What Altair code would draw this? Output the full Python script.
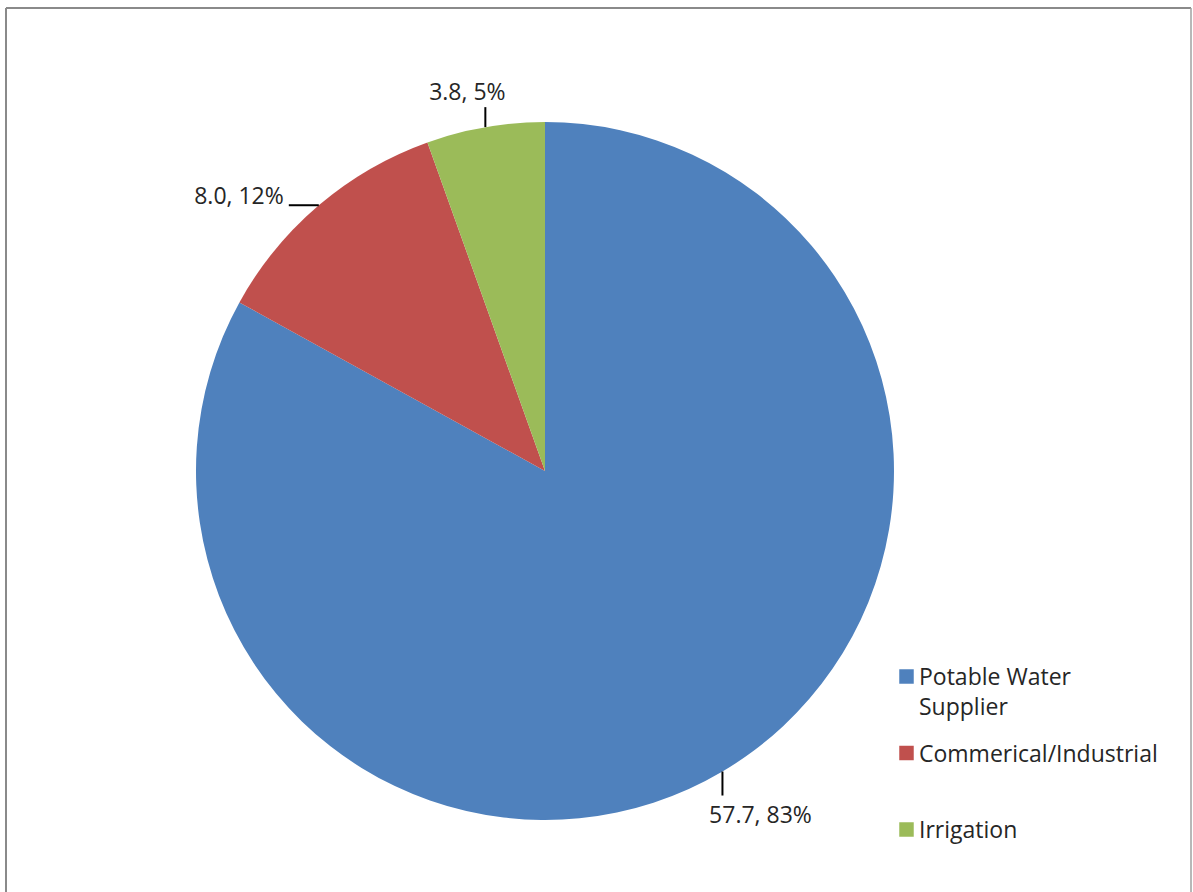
import altair as alt
import pandas as pd

categories = ["Potable Water Supplier", "Commerical/Industrial", "Irrigation"]
volumes = [57.7, 8.0, 3.8]
colors = ["#4F81BD", "#C0504D", "#9BBB59"]

W, H = 1193, 892
CX, CY, R = 545, 471, 349
FONT = "Open Sans"
FS = 23
TXT = "#262626"

df = pd.DataFrame({"category": categories, "volume": volumes,
                   "order": list(range(len(categories)))})

xs = alt.Scale(domain=[0, W], nice=False, zero=False)
ys = alt.Scale(domain=[0, H], nice=False, zero=False, reverse=True)
cs = alt.Scale(domain=categories, range=colors)

base = alt.Chart(df)

pie = base.mark_arc(radius=R).encode(
    theta=alt.Theta("volume:Q", stack=True),
    order=alt.Order("order:Q"),
    color=alt.Color("category:N", scale=cs, legend=None),
    x=alt.value(CX),
    y=alt.value(CY),
)

geo = base.transform_joinaggregate(total="sum(volume)").transform_window(
    cum="sum(volume)", sort=[alt.SortField("order")], frame=[None, 0]
).transform_calculate(
    mid="(datum.cum - datum.volume/2)/datum.total*2*PI",
    ex=f"{CX} + {R}*sin(datum.mid)",
    ey=f"{CY} - {R}*cos(datum.mid)",
    vert="abs(cos(datum.mid)) > 0.8",
    lx2="datum.vert ? datum.ex : datum.ex + (sin(datum.mid) < 0 ? -30 : 30)",
    ly2="datum.vert ? datum.ey + (cos(datum.mid) < 0 ? 24 : -20) : datum.ey",
    tx="datum.vert ? datum.lx2 + (cos(datum.mid) < 0 ? 38 : -18) : datum.lx2 - 5",
    ty="datum.vert ? datum.ly2 + (cos(datum.mid) < 0 ? 20 : -14) : datum.ly2 - 8",
    label="format(datum.volume, '.1f') + ', ' + format(datum.volume/datum.total, '.0%')",
)

leaders = geo.mark_rule(color="#000000", strokeWidth=2).encode(
    x=alt.X("ex:Q", scale=xs, axis=None),
    y=alt.Y("ey:Q", scale=ys, axis=None),
    x2="lx2:Q",
    y2="ly2:Q",
)

labels_v = geo.transform_filter("datum.vert").mark_text(
    font=FONT, fontSize=FS, color=TXT, align="center", baseline="middle"
).encode(
    x=alt.X("tx:Q", scale=xs, axis=None),
    y=alt.Y("ty:Q", scale=ys, axis=None),
    text="label:N",
)
labels_h = geo.transform_filter("!datum.vert").mark_text(
    font=FONT, fontSize=FS, color=TXT, align="right", baseline="middle"
).encode(
    x=alt.X("tx:Q", scale=xs, axis=None),
    y=alt.Y("ty:Q", scale=ys, axis=None),
    text="label:N",
)

leg = base.transform_calculate(
    ly="685 + datum.order*76.5",
    sy="datum.ly - 8.5",
    sp="lastindexof(datum.category, ' ')",
    lab="length(datum.category) > 14 && datum.sp > 0 ? slice(datum.category, 0, datum.sp) + '\\n' + slice(datum.category, datum.sp + 1) : datum.category",
)
leg_sq = leg.mark_square(size=210, opacity=1).encode(
    x=alt.value(906.5),
    y=alt.Y("sy:Q", scale=ys, axis=None),
    color=alt.Color("category:N", scale=cs, legend=None),
)
leg_tx = leg.mark_text(
    font=FONT, fontSize=FS, color=TXT, align="left", baseline="alphabetic",
    lineBreak="\n", lineHeight=30,
).encode(
    x=alt.value(919),
    y=alt.Y("ly:Q", scale=ys, axis=None),
    text="lab:N",
)

frame_df = pd.DataFrame({"k": [0]})
frame = alt.Chart(frame_df)
left = frame.mark_rule(color="#8a8a8a", strokeWidth=2).encode(
    x=alt.value(6), y=alt.value(8), y2=alt.value(H))
top = frame.mark_rule(color="#8a8a8a", strokeWidth=2).encode(
    x=alt.value(6), x2=alt.value(1191), y=alt.value(8))
right = frame.mark_rule(color="#a0a0a0", strokeWidth=1.5).encode(
    x=alt.value(1191), y=alt.value(8), y2=alt.value(H))

chart = alt.layer(
    pie, leaders, labels_v, labels_h, leg_sq, leg_tx, left, top, right
).properties(
    width=W, height=H, padding=0, autosize=alt.AutoSizeParams(type="none"),
    background="white",
).configure_view(stroke=None)

chart.save("out.html", embed_options={"renderer": "svg", "actions": False})
